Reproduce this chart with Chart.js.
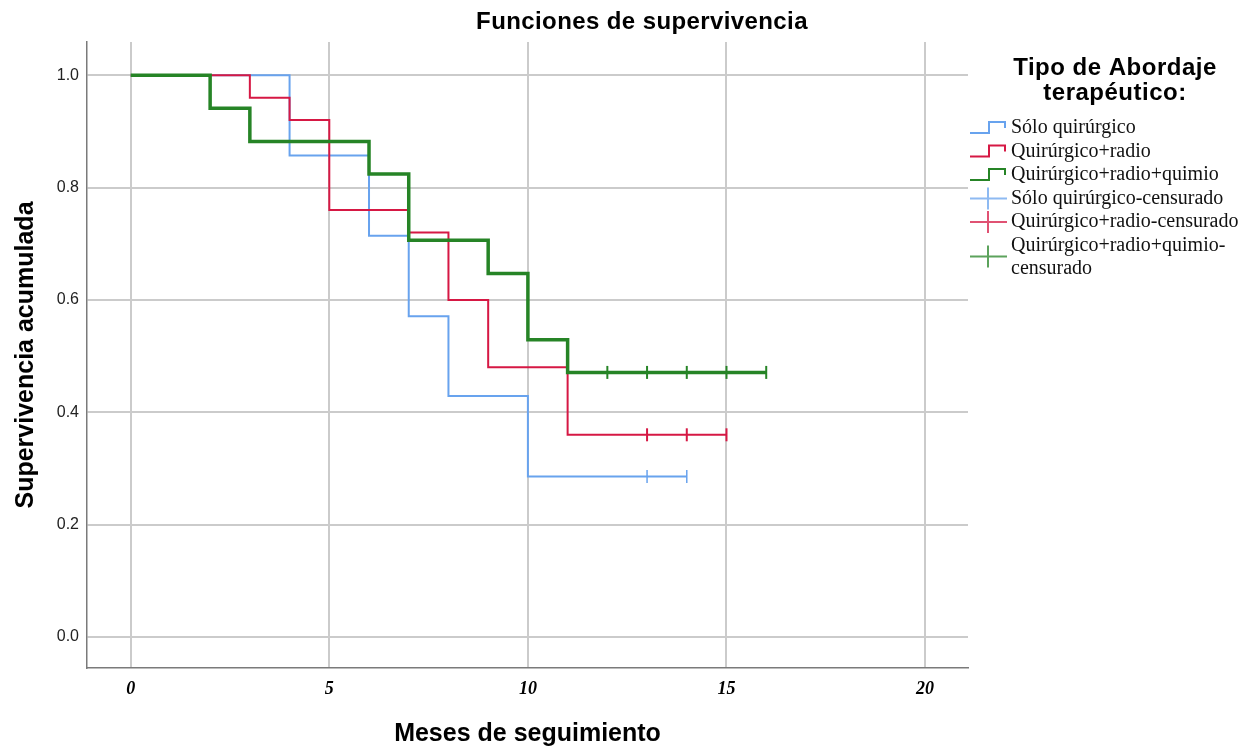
<!DOCTYPE html>
<html>
<head>
<meta charset="utf-8">
<script src="https://cdn.jsdelivr.net/npm/chart.js@4"></script>
<style>
  body { margin: 0; background: #fff; }
  canvas { display: block; }
</style>
</head>
<body>
<canvas id="km" width="1255" height="748"></canvas>
<script>
// tiempos de evento (meses) y supervivencia acumulada por grupo
const soloTimes = [0, 4, 6, 7, 8, 10, 14];
const soloSurv = [1.0, 0.857, 0.714, 0.571, 0.429, 0.286, 0.286];
const soloCensTimes = [13, 14];

const radioTimes = [0, 3, 4, 5, 7, 8, 9, 11, 15];
const radioSurv = [1.0, 0.96, 0.92, 0.76, 0.72, 0.60, 0.48, 0.36, 0.36];
const radioCensTimes = [13, 14, 15];

const quimioTimes = [0, 2, 3, 6, 7, 9, 10, 11, 16];
const quimioSurv = [1.0, 0.941, 0.882, 0.824, 0.706, 0.647, 0.529, 0.471, 0.471];
const quimioCensTimes = [12, 13, 14, 15, 16];

const xTicks = [0, 5, 10, 15, 20];
const yTicks = [0, 0.2, 0.4, 0.6, 0.8, 1.0];

const legendTitle = ["Tipo de Abordaje", "terapéutico:"];
const legendLabels = [
  ["Sólo quirúrgico"],
  ["Quirúrgico+radio"],
  ["Quirúrgico+radio+quimio"],
  ["Sólo quirúrgico-censurado"],
  ["Quirúrgico+radio-censurado"],
  ["Quirúrgico+radio+quimio-", "censurado"]
];

const BLUE = "rgb(104,163,238)";
const RED = "rgb(214,24,68)";
const GREEN = "rgb(38,132,38)";

const pts = (xs, ys) => xs.map((x, i) => ({ x: x, y: ys[i] }));
const cens = (xs, surv) => xs.map(x => ({ x: x, y: surv[surv.length - 1] }));

// order: el menor se dibuja encima (verde arriba, como en SPSS)
function stepSet(data, color, width, order) {
  return { data: data, borderColor: color, borderWidth: width, stepped: true,
           pointRadius: 0, fill: false, order: order };
}
function censSet(data, color, width, order) {
  return { data: data, showLine: false, pointStyle: "line", rotation: 90,
           pointRadius: 6.5, pointBorderWidth: width, pointBorderColor: color,
           pointBackgroundColor: color, borderColor: color, order: order };
}

// título y leyenda dibujados sobre el canvas
const extras = {
  id: "extras",
  afterDraw(chart) {
    const ctx = chart.ctx;
    ctx.save();
    ctx.fillStyle = "#000";
    ctx.textAlign = "center";
    ctx.textBaseline = "middle";
    ctx.letterSpacing = "0.4px";
    ctx.font = "bold 24px 'Liberation Sans', Arial, sans-serif";
    ctx.fillText("Funciones de supervivencia", 642, 22);

    ctx.letterSpacing = "0.5px";
    ctx.font = "bold 24px 'Liberation Sans', Arial, sans-serif";
    ctx.fillText(legendTitle[0], 1115, 68);
    ctx.fillText(legendTitle[1], 1115, 93);

    const colors = [BLUE, RED, GREEN, BLUE, RED, GREEN];
    const x0 = 970, tx = 1011;
    let y = 128;
    ctx.textAlign = "left";
    ctx.letterSpacing = "0px";
    ctx.font = "20px 'Liberation Serif', 'Times New Roman', serif";
    legendLabels.forEach((lines, i) => {
      const c = colors[i];
      const iy = lines.length > 1 ? y + 11 : y;
      ctx.strokeStyle = c;
      ctx.lineWidth = 2;
      ctx.beginPath();
      if (i < 3) {
        ctx.moveTo(x0, iy + 5);
        ctx.lineTo(x0 + 19, iy + 5);
        ctx.lineTo(x0 + 19, iy - 6);
        ctx.lineTo(x0 + 35, iy - 6);
        ctx.lineTo(x0 + 35, iy);
      } else {
        ctx.globalAlpha = 0.75;
        ctx.moveTo(x0, iy);
        ctx.lineTo(x0 + 37, iy);
        ctx.moveTo(x0 + 18, iy - 11);
        ctx.lineTo(x0 + 18, iy + 11);
      }
      ctx.stroke();
      ctx.globalAlpha = 1;
      ctx.fillStyle = "#111";
      lines.forEach((t, k) => ctx.fillText(t, tx, y + k * 23));
      y += 23.5 * lines.length;
    });
    ctx.restore();
  }
};

new Chart(document.getElementById("km"), {
  type: "line",
  data: {
    datasets: [
      stepSet(pts(soloTimes, soloSurv), BLUE, 2, 2),
      stepSet(pts(radioTimes, radioSurv), RED, 2, 1),
      stepSet(pts(quimioTimes, quimioSurv), GREEN, 3.5, 0),
      censSet(cens(soloCensTimes, soloSurv), BLUE, 1.5, 2),
      censSet(cens(radioCensTimes, radioSurv), RED, 2, 1),
      censSet(cens(quimioCensTimes, quimioSurv), GREEN, 2, 0)
    ]
  },
  options: {
    responsive: false,
    animation: false,
    layout: { padding: { top: 42, right: 287, left: 0, bottom: 0 } },
    plugins: {
      legend: { display: false },
      tooltip: { enabled: false }
    },
    scales: {
      x: {
        type: "linear",
        min: -1.1,
        max: 21.08,
        afterBuildTicks: s => { s.ticks = xTicks.map(v => ({ value: v })); },
        afterFit: s => { s.height = 80; },
        grid: { color: "#cbcbcb", lineWidth: 2, drawTicks: false },
        border: { color: "#7a7a7a", width: 1.5 },
        ticks: {
          padding: 11,
          color: "#000",
          font: { family: "'Liberation Serif', serif", size: 18, style: "italic", weight: "bold" }
        },
        title: {
          display: true,
          text: "Meses de seguimiento",
          color: "#000",
          padding: { top: 0, bottom: 1 },
          font: { family: "'Liberation Sans', Arial, sans-serif", size: 25, weight: "bold", lineHeight: 1 }
        }
      },
      y: {
        min: -0.055,
        max: 1.059,
        afterBuildTicks: s => { s.ticks = yTicks.map(v => ({ value: v })); },
        afterFit: s => { s.width = 87; },
        grid: { color: "#cbcbcb", lineWidth: 2, drawTicks: false },
        border: { color: "#7a7a7a", width: 1.5 },
        ticks: {
          padding: 8,
          color: "#222",
          callback: v => v.toFixed(1),
          font: { family: "'Liberation Sans', Arial, sans-serif", size: 16 }
        },
        title: {
          display: true,
          text: "Supervivencia acumulada",
          color: "#000",
          padding: { top: 14, bottom: 0 },
          font: { family: "'Liberation Sans', Arial, sans-serif", size: 25, weight: "bold", lineHeight: 1 }
        }
      }
    }
  },
  plugins: [extras]
});
</script>
</body>
</html>
